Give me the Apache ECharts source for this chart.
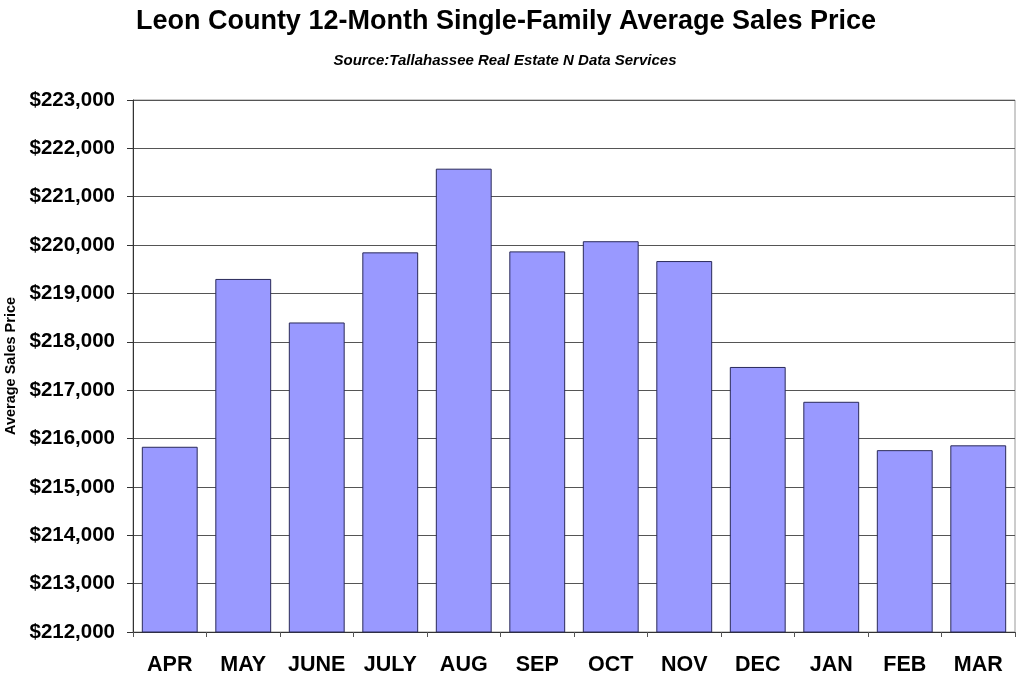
<!DOCTYPE html>
<html>
<head>
<meta charset="utf-8">
<script src="https://cdn.jsdelivr.net/npm/echarts@6/dist/echarts.min.js"></script>
<style>html,body{margin:0;padding:0;background:#fff}#c{width:1024px;height:692px}</style>
</head>
<body>
<div id="c"></div>
<script>
var titleText = 'Leon County 12-Month Single-Family Average Sales Price';
var subtitleText = 'Source:Tallahassee Real Estate N Data Services';
var yAxisName = 'Average Sales Price';
var months = ['APR','MAY','JUNE','JULY','AUG','SEP','OCT','NOV','DEC','JAN','FEB','MAR'];
var avgPrice = [215830, 219300, 218400, 219850, 221580, 219870, 220080, 219670, 217480, 216760, 215760, 215860];
var yMin = 212000, yMax = 223000, yStep = 1000;

function money(v){ return '$' + String(Math.round(v)).replace(/\B(?=(\d{3})+(?!\d))/g, ','); }

var chart = echarts.init(document.getElementById('c'), null, {renderer:'canvas'});
chart.setOption({
  animation: false,
  backgroundColor: '#ffffff',
  textStyle: {fontFamily: 'Liberation Sans, Arial, sans-serif'},
  graphic: [
    {type:'text', x: 506, y: 22, style:{text: titleText, fill:'#000', font:'bold 27px "Liberation Sans", Arial, sans-serif', textAlign:'center', textVerticalAlign:'middle'}},
    {type:'text', x: 505, y: 61, style:{text: subtitleText, fill:'#000', font:'italic bold 15px "Liberation Sans", Arial, sans-serif', textAlign:'center', textVerticalAlign:'middle'}}
  ],
  grid: {left: 133, right: 9, top: 100, bottom: 60, show: true, borderColor: '#999', borderWidth: 1, containLabel: false, outerBoundsMode: 'none'},
  xAxis: {
    type: 'category',
    data: months,
    boundaryGap: true,
    axisLine: {show: true, lineStyle: {color: '#333', width: 1}},
    axisTick: {show: true, length: 5, lineStyle: {color: '#555'}},
    axisLabel: {color: '#000', fontWeight: 'bold', fontSize: 21.5, margin: 22, fontFamily: 'Liberation Sans, Arial, sans-serif', interval: 0},
    splitLine: {show: false}
  },
  yAxis: {
    type: 'value',
    min: yMin, max: yMax, interval: yStep,
    name: yAxisName,
    nameLocation: 'middle',
    nameGap: 114,
    nameRotate: 90,
    nameTextStyle: {color: '#000', fontWeight: 'bold', fontSize: 14.5, fontFamily: 'Liberation Sans, Arial, sans-serif'},
    axisLine: {show: true, lineStyle: {color: '#333', width: 1}},
    axisTick: {show: true, length: 6, lineStyle: {color: '#333'}},
    axisLabel: {color: '#000', fontWeight: 'bold', fontSize: 20.5, margin: 18, formatter: money, fontFamily: 'Liberation Sans, Arial, sans-serif'},
    splitLine: {show: true, lineStyle: {color: '#555', width: 1}}
  },
  series: [{
    type: 'bar',
    data: avgPrice,
    barCategoryGap: '24%',
    itemStyle: {color: '#9999ff', borderColor: '#2a2a5a', borderWidth: 1},
    emphasis: {disabled: true}
  }]
});
</script>
</body>
</html>
